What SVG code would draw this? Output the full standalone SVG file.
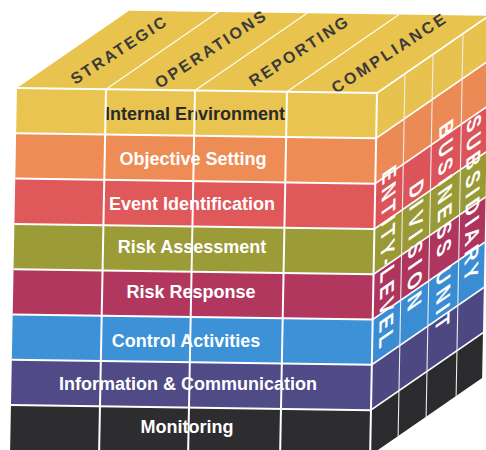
<svg xmlns="http://www.w3.org/2000/svg" width="486" height="450" viewBox="0 0 486 450">
<style>
.lbl{font-family:"Liberation Sans",Arial,sans-serif;font-weight:bold;font-size:18px;text-anchor:middle;fill:#ffffff}
.dark{fill:#2a2a2a}
.obj{font-family:"Liberation Sans",Arial,sans-serif;font-weight:bold;font-size:16px;text-anchor:middle;fill:#3a3a3a}
.ent{font-family:"Liberation Sans",Arial,sans-serif;font-weight:bold;font-size:20px;text-anchor:middle;fill:#ffffff}
.g line{stroke:#ffffff;stroke-width:2;fill:none}
.g line.thin{stroke:#eeeeee;stroke-width:1.1}
.yel{fill:#E8C34D}
</style>
<rect width="486" height="450" fill="#ffffff"/>

<!-- Top face: objectives -->
<g id="objective-strategic">
  <rect class="yel" transform="matrix(1,0.014,1,-0.69,17,88)" x="0" y="0" width="89" height="112"/>
  <text class="obj" transform="translate(118,50) rotate(-33)" x="0" y="6" textLength="110" lengthAdjust="spacing">STRATEGIC</text>
</g>
<g id="objective-operations">
  <rect class="yel" transform="matrix(1,0.014,1,-0.69,17,88)" x="89" y="0" width="89" height="112"/>
  <text class="obj" transform="translate(210,49) rotate(-33)" x="0" y="6" textLength="128" lengthAdjust="spacing">OPERATIONS</text>
</g>
<g id="objective-reporting">
  <rect class="yel" transform="matrix(1,0.014,1,-0.69,17,88)" x="178" y="0" width="92" height="112"/>
  <text class="obj" transform="translate(298,51) rotate(-33)" x="0" y="6" textLength="114" lengthAdjust="spacing">REPORTING</text>
</g>
<g id="objective-compliance">
  <rect class="yel" transform="matrix(1,0.014,1,-0.69,17,88)" x="270" y="0" width="90" height="112"/>
  <text class="obj" transform="translate(388,53) rotate(-33)" x="0" y="6" textLength="132" lengthAdjust="spacing">COMPLIANCE</text>
</g>

<!-- Components: front face rows + right face rows -->
<g id="row-internal-environment">
  <rect transform="matrix(1,0.014,-0.019,1,17,88)" x="0" y="0" width="360" height="45.3" fill="#E9C450"/>
  <rect transform="matrix(1,-0.69,-0.019,1,377,93)" x="0" y="0" width="112" height="45.3" fill="#E8C24E"/>
  <text class="lbl dark" x="195" y="120">Internal Environment</text>
</g>
<g id="row-objective-setting">
  <rect transform="matrix(1,0.014,-0.019,1,17,88)" x="0" y="45.3" width="360" height="45.3" fill="#EE8C55"/>
  <rect transform="matrix(1,-0.69,-0.019,1,377,93)" x="0" y="45.3" width="112" height="45.3" fill="#EC8A55"/>
  <text class="lbl" x="193" y="165">Objective Setting</text>
</g>
<g id="row-event-identification">
  <rect transform="matrix(1,0.014,-0.019,1,17,88)" x="0" y="90.6" width="360" height="45.3" fill="#DF585A"/>
  <rect transform="matrix(1,-0.69,-0.019,1,377,93)" x="0" y="90.6" width="112" height="45.3" fill="#DA545A"/>
  <text class="lbl" x="192" y="210">Event Identification</text>
</g>
<g id="row-risk-assessment">
  <rect transform="matrix(1,0.014,-0.019,1,17,88)" x="0" y="135.9" width="360" height="45.3" fill="#9B9B37"/>
  <rect transform="matrix(1,-0.69,-0.019,1,377,93)" x="0" y="135.9" width="112" height="45.3" fill="#999936"/>
  <text class="lbl" x="192" y="253">Risk Assessment</text>
</g>
<g id="row-risk-response">
  <rect transform="matrix(1,0.014,-0.019,1,17,88)" x="0" y="181.2" width="360" height="45.3" fill="#B2375F"/>
  <rect transform="matrix(1,-0.69,-0.019,1,377,93)" x="0" y="181.2" width="112" height="45.3" fill="#AE355E"/>
  <text class="lbl" x="191" y="298">Risk Response</text>
</g>
<g id="row-control-activities">
  <rect transform="matrix(1,0.014,-0.019,1,17,88)" x="0" y="226.5" width="360" height="45.3" fill="#3C91D7"/>
  <rect transform="matrix(1,-0.69,-0.019,1,377,93)" x="0" y="226.5" width="112" height="45.3" fill="#3A8DD3"/>
  <text class="lbl" x="186" y="347">Control Activities</text>
</g>
<g id="row-information-communication">
  <rect transform="matrix(1,0.014,-0.019,1,17,88)" x="0" y="271.8" width="360" height="45.3" fill="#504B87"/>
  <rect transform="matrix(1,-0.69,-0.019,1,377,93)" x="0" y="271.8" width="112" height="45.3" fill="#4D4882"/>
  <text class="lbl" x="188" y="390">Information &amp; Communication</text>
</g>
<g id="row-monitoring">
  <rect transform="matrix(1,0.014,-0.019,1,17,88)" x="0" y="317.1" width="360" height="45.3" fill="#2D2D30"/>
  <rect transform="matrix(1,-0.69,-0.019,1,377,93)" x="0" y="317.1" width="112" height="45.3" fill="#2B2B2E"/>
  <text class="lbl" x="187" y="433">Monitoring</text>
</g>

<!-- Grid lines (connectors) -->
<g id="grid-lines" class="g">
  <g transform="matrix(1,0.014,1,-0.69,17,88)">
    <line x1="89" y1="0" x2="89" y2="112"/>
    <line x1="178" y1="0" x2="178" y2="112"/>
    <line x1="270" y1="0" x2="270" y2="112"/>
    <line x1="360" y1="0" x2="360" y2="112"/>
  </g>
  <g transform="matrix(1,0.014,-0.019,1,17,88)">
    <line x1="0" y1="0" x2="360" y2="0"/>
    <line x1="0" y1="45.3" x2="360" y2="45.3"/>
    <line x1="0" y1="90.6" x2="360" y2="90.6"/>
    <line x1="0" y1="135.9" x2="360" y2="135.9"/>
    <line x1="0" y1="181.2" x2="360" y2="181.2"/>
    <line x1="0" y1="226.5" x2="360" y2="226.5"/>
    <line x1="0" y1="271.8" x2="360" y2="271.8"/>
    <line x1="0" y1="317.1" x2="360" y2="317.1"/>
    <line x1="89" y1="0" x2="89" y2="363"/>
    <line x1="178" y1="0" x2="178" y2="363"/>
    <line x1="270" y1="0" x2="270" y2="363"/>
    <line x1="360" y1="0" x2="360" y2="363"/>
  </g>
  <g transform="matrix(1,-0.69,-0.019,1,377,93)">
    <line x1="0" y1="0" x2="112" y2="0"/>
    <line x1="0" y1="45.3" x2="112" y2="45.3"/>
    <line x1="0" y1="90.6" x2="112" y2="90.6"/>
    <line x1="0" y1="135.9" x2="112" y2="135.9"/>
    <line x1="0" y1="181.2" x2="112" y2="181.2"/>
    <line x1="0" y1="226.5" x2="112" y2="226.5"/>
    <line x1="0" y1="271.8" x2="112" y2="271.8"/>
    <line x1="0" y1="317.1" x2="112" y2="317.1"/>
    <line class="thin" x1="28" y1="0" x2="28" y2="363"/>
    <line class="thin" x1="56" y1="0" x2="56" y2="363"/>
    <line class="thin" x1="86" y1="0" x2="86" y2="363"/>
  </g>
</g>

<!-- Right face: entity levels -->
<g id="entity-entity-level">
  <text class="ent" transform="matrix(1,-0.69,-0.019,1,377,93) translate(7,173) rotate(90)" x="0" y="0" textLength="177" lengthAdjust="spacing">ENTITY-LEVEL</text>
</g>
<g id="entity-division">
  <text class="ent" transform="matrix(1,-0.69,-0.019,1,377,93) translate(35,181) rotate(90)" x="0" y="0" textLength="126" lengthAdjust="spacing">DIVISION</text>
</g>
<g id="entity-business-unit">
  <text class="ent" transform="matrix(1,-0.69,-0.019,1,377,93) translate(64,181) rotate(90)" x="0" y="0" textLength="206" lengthAdjust="spacing">BUSINESS UNIT</text>
</g>
<g id="entity-subsidiary">
  <text class="ent" transform="matrix(1,-0.69,-0.019,1,377,93) translate(92,173) rotate(90)" x="0" y="0" textLength="162" lengthAdjust="spacing">SUBSIDIARY</text>
</g>
</svg>
